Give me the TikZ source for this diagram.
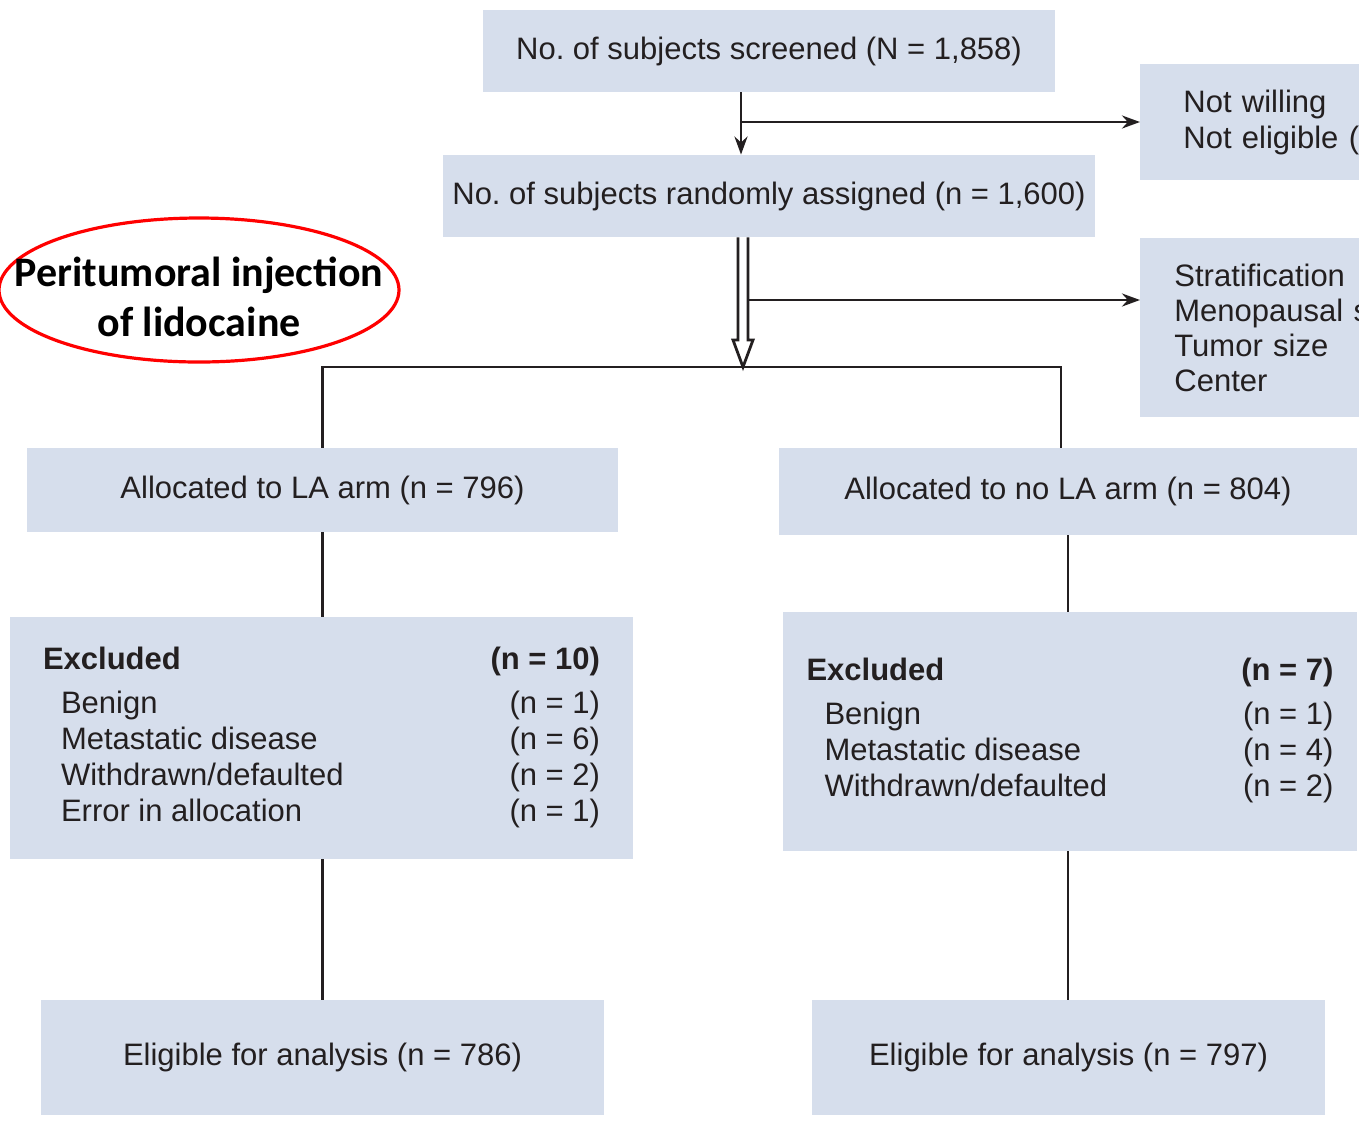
\documentclass[tikz,border=0pt]{standalone}
\usepackage{fontspec}
\setmainfont{Liberation Sans}
\newfontfamily\calib{Carlito}
\usetikzlibrary{arrows.meta, positioning, shapes.geometric, calc}
\tikzset{>={Stealth[length=9pt,width=6.5pt]}}
\definecolor{boxblue}{RGB}{214,222,236}
\definecolor{ink}{RGB}{35,31,32}
\tikzset{flowbox/.style = {shape=rectangle, fill=boxblue, inner sep=0pt, text=ink, font=\fontsize{15.5}{18}\selectfont},
         sidebox/.style = {flowbox, anchor=west, minimum width=200pt, align=left},
         link/.style = {draw=ink, line width=1.4pt}}

\begin{document}
\begin{tikzpicture}[x=0.5pt, y=-0.5pt]
                    \useasboundingbox (0,0) rectangle (1359,1121);
                    \clip (0,0) rectangle (1359,1121);

                    \node[flowbox, minimum width=286pt, minimum height=41pt] (scr) at (769,51) {No.\ of subjects screened (N = 1,858)};
                    \node[flowbox, minimum width=326pt, minimum height=41pt] (rnd) at (769,196) {No.\ of subjects randomly assigned (n = 1,600)};
                    \node[sidebox, minimum height=58pt, inner xsep=21.5pt, text width=157pt] (nw) at (1140,122) {Not willing\\Not eligible (};
                    \node[sidebox, minimum height=89.5pt, inner xsep=17pt, text width=166pt,
                          font=\fontsize{15.5}{17.5}\selectfont] (st) at (1140,327.5) {Stratification\\Menopausal s\\Tumor size\\Center};

                    \node[flowbox, minimum width=295.5pt, minimum height=42pt] (la) at (322.5,490) {Allocated to LA arm (n = 796)};
                    \node[flowbox, minimum width=289pt, minimum height=43.5pt] (nola) at (1068,491.5) {Allocated to no LA arm (n = 804)};

                    \node[flowbox, minimum width=311.5pt, minimum height=121pt] (exa) at (321.5,738) {%
                      \begin{tabular*}{278.5pt}{@{}l@{\extracolsep{\fill}}r@{}}
                        \textbf{Excluded} & \textbf{(n = 10)}\\[4pt]
                        \hspace*{9pt}Benign & (n = 1)\\
                        \hspace*{9pt}Metastatic disease & (n = 6)\\
                        \hspace*{9pt}Withdrawn/defaulted & (n = 2)\\
                        \hspace*{9pt}Error in allocation & (n = 1)
                      \end{tabular*}};
                    \node[flowbox, minimum width=287pt, minimum height=119.5pt] (exb) at (1070,731.5) {%
                      \begin{tabular*}{263.5pt}{@{}l@{\extracolsep{\fill}}r@{}}
                        \textbf{Excluded} & \textbf{(n = 7)}\\[4pt]
                        \hspace*{9pt}Benign & (n = 1)\\
                        \hspace*{9pt}Metastatic disease & (n = 4)\\
                        \hspace*{9pt}Withdrawn/defaulted & (n = 2)
                      \end{tabular*}};

                    \node[flowbox, minimum width=281.5pt, minimum height=57.5pt] (ela) at (322.5,1057.5) {Eligible for analysis (n = 786)};
                    \node[flowbox, minimum width=256.5pt, minimum height=57.5pt] (elb) at (1068.5,1057.5) {Eligible for analysis (n = 797)};

                    \coordinate (oval) at (199,290);
                    \draw[red, line width=1.6pt] (oval) ellipse [x radius=200, y radius=72];
                    \node[align=center, inner sep=0pt, font=\calib\bfseries\fontsize{21}{25}\selectfont] (note) at (199,297) {Peritumoral injection\\of lidocaine};

                    \coordinate (spine) at (741,0);
                    \coordinate (b1) at (741,122);
                    \coordinate (b2) at (748,300);
                    \coordinate (split) at (743,367);

                    \draw[link, ->] (scr.south -| spine) -- (rnd.north -| spine);
                    \draw[link, ->] (b1) -- (nw.west);
                    \draw[link] ($(rnd.south -| split)+(-5,0)$) -- ($(split)+(-5,-27)$) -- ($(split)+(-10,-27)$) -- (split)
                                -- ($(split)+(10,-27)$) -- ($(split)+(5,-27)$) -- ($(rnd.south -| split)+(5,0)$);
                    \draw[link, ->] (b2) -- (b2 -| st.west);
                    \draw[link] (la.north) |- (split) -| ($(nola.north)+(-7,0)$);
                    \draw[link] (la.south) -- (la.south |- exa.north);
                    \draw[link] (nola.south) -- (nola.south |- exb.north);
                    \draw[link] (la.south |- exa.south) -- (la.south |- ela.north);
                    \draw[link] (nola.south |- exb.south) -- (nola.south |- elb.north);
\end{tikzpicture}
\end{document}
